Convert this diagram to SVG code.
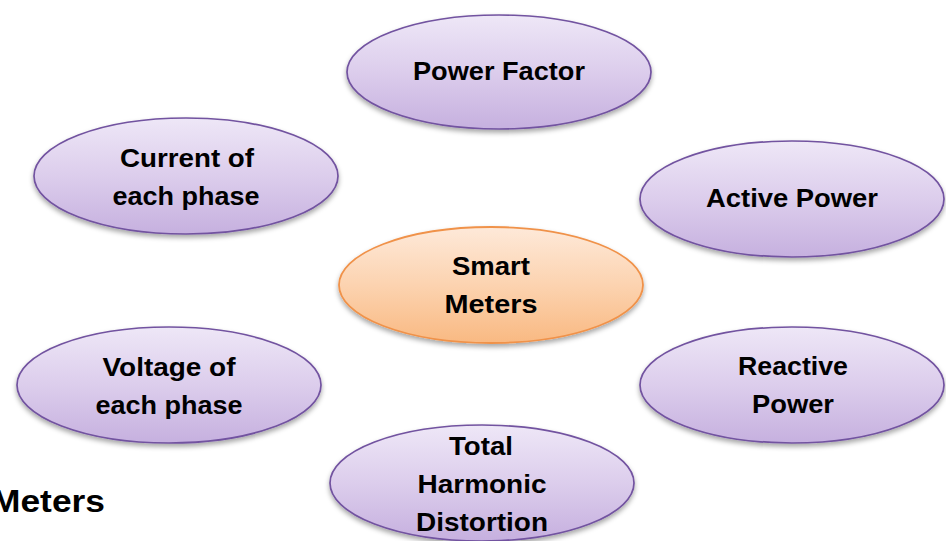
<svg xmlns="http://www.w3.org/2000/svg" width="946" height="541" viewBox="0 0 946 541">
  <defs>
    <linearGradient id="gradPurple" x1="0" y1="0" x2="0" y2="1">
      <stop offset="0" stop-color="#EEE7F7"/>
      <stop offset="0.5" stop-color="#DCCDEC"/>
      <stop offset="1" stop-color="#C6B0DF"/>
    </linearGradient>
    <linearGradient id="gradOrange" x1="0" y1="0" x2="0" y2="1">
      <stop offset="0" stop-color="#FEE9D9"/>
      <stop offset="0.5" stop-color="#FCD3B0"/>
      <stop offset="1" stop-color="#F9B982"/>
    </linearGradient>
    <filter id="shadow" x="-10%" y="-15%" width="120%" height="140%">
      <feDropShadow dx="0" dy="3" stdDeviation="2.5" flood-color="#000" flood-opacity="0.35"/>
    </filter>
  </defs>
  <style>
    .bubble { fill: url(#gradPurple); stroke: #7253A0; stroke-width: 1.7; filter: url(#shadow); }
    .hub { fill: url(#gradOrange); stroke: #F0924A; stroke-width: 1.8; filter: url(#shadow); }
    .label { font-family: "Liberation Sans", Arial, sans-serif; font-weight: bold; font-size: 25px; fill: #000; text-anchor: middle; }
    .title { font-family: "Liberation Sans", Arial, sans-serif; font-weight: bold; font-size: 31px; fill: #000; }
  </style>

  <rect x="0" y="0" width="946" height="541" fill="#FFFFFF"/>

  <!-- no links between the bubbles -->
  <g id="connectors"></g>

  <g id="power-factor">
    <ellipse class="bubble" cx="499" cy="72" rx="152" ry="57"/>
    <text class="label" x="499" y="80" textLength="172" lengthAdjust="spacingAndGlyphs">Power Factor</text>
  </g>

  <g id="current-each-phase">
    <ellipse class="bubble" cx="186" cy="176" rx="152" ry="58"/>
    <text class="label" x="187" y="167" textLength="134" lengthAdjust="spacingAndGlyphs">Current of</text>
    <text class="label" x="186" y="205" textLength="147" lengthAdjust="spacingAndGlyphs">each phase</text>
  </g>

  <g id="active-power">
    <ellipse class="bubble" cx="792" cy="199" rx="152" ry="58"/>
    <text class="label" x="792" y="207" textLength="172" lengthAdjust="spacingAndGlyphs">Active Power</text>
  </g>

  <g id="smart-meters">
    <ellipse class="hub" cx="491" cy="285" rx="152" ry="58"/>
    <text class="label" x="491" y="275" textLength="78" lengthAdjust="spacingAndGlyphs">Smart</text>
    <text class="label" x="491" y="313" textLength="93" lengthAdjust="spacingAndGlyphs">Meters</text>
  </g>

  <g id="voltage-each-phase">
    <ellipse class="bubble" cx="169" cy="385" rx="152" ry="58"/>
    <text class="label" x="169" y="376" textLength="133" lengthAdjust="spacingAndGlyphs">Voltage of</text>
    <text class="label" x="169" y="414" textLength="147" lengthAdjust="spacingAndGlyphs">each phase</text>
  </g>

  <g id="reactive-power">
    <ellipse class="bubble" cx="792" cy="385" rx="152" ry="58"/>
    <text class="label" x="793" y="375" textLength="110" lengthAdjust="spacingAndGlyphs">Reactive</text>
    <text class="label" x="793" y="413" textLength="82" lengthAdjust="spacingAndGlyphs">Power</text>
  </g>

  <g id="total-harmonic-distortion">
    <ellipse class="bubble" cx="482" cy="483" rx="152" ry="58"/>
    <text class="label" x="481" y="455" textLength="64" lengthAdjust="spacingAndGlyphs">Total</text>
    <text class="label" x="482" y="493" textLength="129" lengthAdjust="spacingAndGlyphs">Harmonic</text>
    <text class="label" x="482" y="531" textLength="132" lengthAdjust="spacingAndGlyphs">Distortion</text>
  </g>

  <!-- slide heading running off the left edge -->
  <text class="title" x="-9" y="512" textLength="114" lengthAdjust="spacingAndGlyphs">Meters</text>
</svg>
